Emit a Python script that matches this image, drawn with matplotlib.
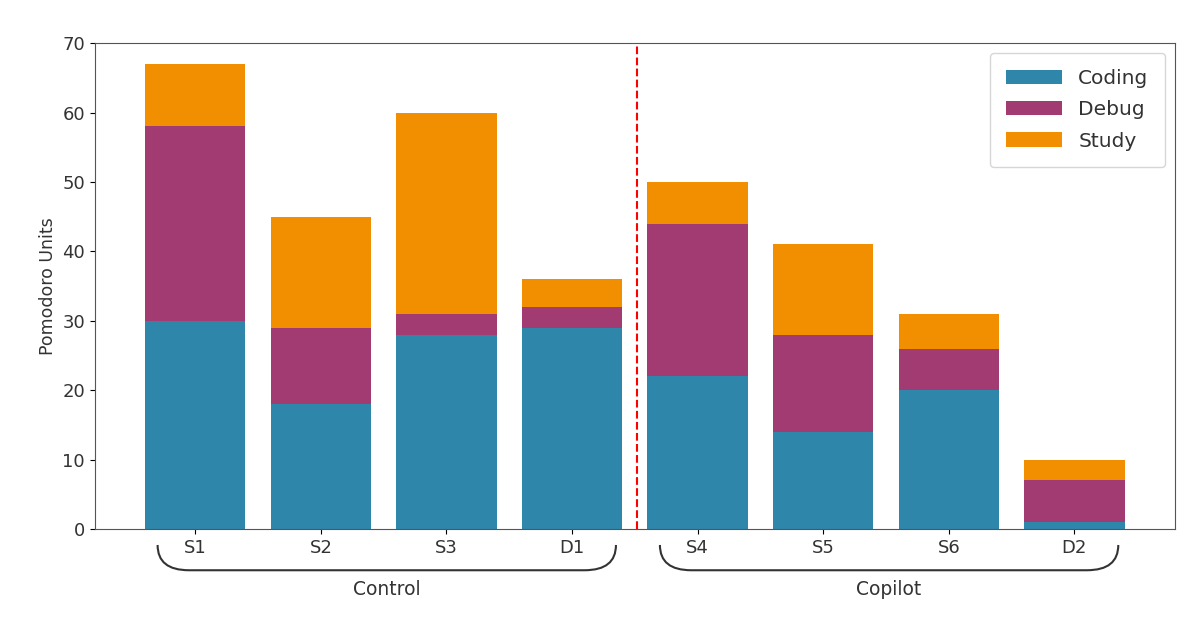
import matplotlib
matplotlib.use("Agg")
import matplotlib.pyplot as plt
import numpy as np
from matplotlib.path import Path
from matplotlib.patches import PathPatch
import matplotlib.transforms as mtransforms

participants = ["S1", "S2", "S3", "D1", "S4", "S5", "S6", "D2"]
coding = [30, 18, 28, 29, 22, 14, 20, 1]
debug = [28, 11, 3, 3, 22, 14, 6, 6]
study = [9, 16, 29, 4, 6, 13, 5, 3]
groups = ["Control", "Copilot"]
group_members = [(0, 3), (4, 7)]

colors = {"Coding": "#2E86AB", "Debug": "#A23B72", "Study": "#F18F01"}

fig, ax = plt.subplots(figsize=(12, 6.35), dpi=100)
fig.subplots_adjust(left=0.079, right=0.979, top=0.932, bottom=0.167)

x = np.arange(len(participants))
coding = np.array(coding)
debug = np.array(debug)
study = np.array(study)
ax.bar(x, coding, width=0.8, color=colors["Coding"], label="Coding")
ax.bar(x, debug, width=0.8, bottom=coding, color=colors["Debug"], label="Debug")
ax.bar(x, study, width=0.8, bottom=coding + debug, color=colors["Study"], label="Study")

ax.axvline(3.52, color="red", linestyle="--", linewidth=1.5)

ax.set_xlim(-0.8, 7.8)
ax.set_ylim(0, 70)
ax.set_xticks(x)
ax.set_xticklabels(participants, fontsize=13, color="#333333")
ax.tick_params(axis="y", labelsize=13, labelcolor="#333333")
ax.set_ylabel("Pomodoro Units", fontsize=12.5, color="#333333")
for s in ax.spines.values():
    s.set_color("#555555")

leg = ax.legend(fontsize=14.5, loc="upper right", borderpad=0.8, labelspacing=0.6,
                handlelength=2.8)
for t in leg.get_texts():
    t.set_color("#333333")

# braces under the groups
trans = mtransforms.blended_transform_factory(ax.transData, ax.transAxes)
y_top, y_bot = -0.033, -0.085
r = 0.25
for name, (a, b) in zip(groups, group_members):
    x0, x1 = a - 0.3, b + 0.35
    verts = [(x0, y_top), (x0, y_bot), (x0 + r, y_bot),
             (x1 - r, y_bot),
             (x1, y_bot), (x1, y_top)]
    codes = [Path.MOVETO, Path.CURVE3, Path.CURVE3,
             Path.LINETO, Path.CURVE3, Path.CURVE3]
    patch = PathPatch(Path(verts, codes), transform=trans, fill=False,
                      edgecolor="#333333", linewidth=1.5, clip_on=False)
    ax.add_patch(patch)
    ax.text((x0 + x1) / 2, -0.105, name, transform=trans, ha="center",
            va="top", fontsize=13.5, color="#333333")

fig.savefig("out.png", dpi=100)
